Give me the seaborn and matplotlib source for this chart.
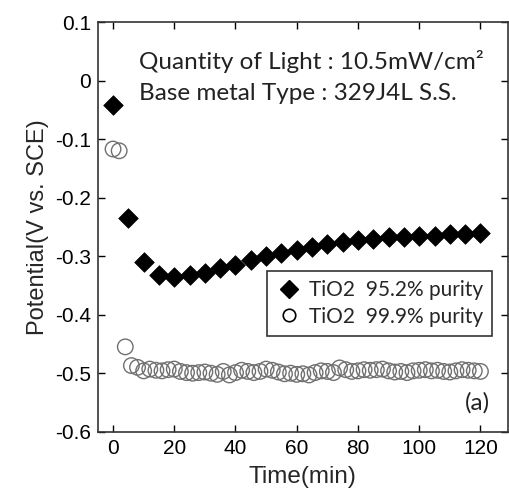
import matplotlib
matplotlib.use("Agg")
import matplotlib.pyplot as plt
import seaborn as sns
import pandas as pd
from matplotlib.lines import Line2D

sns.set_style("ticks")
plt.rcParams['font.family'] = ['Liberation Sans', 'DejaVu Sans']

# ---- data ----
time_952 = [0, 5, 10, 15, 20, 25, 30, 35, 40, 45, 50, 55, 60, 65, 70, 75,
            80, 85, 90, 95, 100, 105, 110, 115, 120]
pot_952 = [-0.041, -0.235, -0.310, -0.332, -0.335, -0.333, -0.328, -0.321,
           -0.315, -0.306, -0.300, -0.295, -0.289, -0.284, -0.280, -0.276,
           -0.273, -0.270, -0.268, -0.267, -0.266, -0.265, -0.263, -0.262,
           -0.260]

time_999 = [0, 2, 4, 6, 8, 10, 12, 14, 16, 18, 20, 22, 24, 26, 28, 30, 32,
            34, 36, 38, 40, 42, 44, 46, 48, 50, 52, 54, 56, 58, 60, 62, 64,
            66, 68, 70, 72, 74, 76, 78, 80, 82, 84, 86, 88, 90, 92, 94, 96,
            98, 100, 102, 104, 106, 108, 110, 112, 114, 116, 118, 120]
pot_999 = [-0.117, -0.120, -0.455, -0.487, -0.490, -0.496, -0.493, -0.495,
           -0.496, -0.494, -0.493, -0.497, -0.499, -0.500, -0.499, -0.498,
           -0.500, -0.502, -0.497, -0.503, -0.499, -0.495, -0.497, -0.499,
           -0.497, -0.493, -0.495, -0.498, -0.501, -0.500, -0.502, -0.501,
           -0.503, -0.499, -0.496, -0.497, -0.499, -0.491, -0.494, -0.497,
           -0.496, -0.494, -0.495, -0.494, -0.493, -0.496, -0.498, -0.497,
           -0.499, -0.496, -0.495, -0.494, -0.496, -0.495, -0.497, -0.498,
           -0.496, -0.494, -0.495, -0.496, -0.497]

labels = ["TiO2  95.2% purity", "TiO2  99.9% purity"]
xticks = [0, 20, 40, 60, 80, 100, 120]
yticks = [0.1, 0, -0.1, -0.2, -0.3, -0.4, -0.5, -0.6]
ytick_labels = ["0.1", "0", "-0.1", "-0.2", "-0.3", "-0.4", "-0.5", "-0.6"]

df1 = pd.DataFrame({"t": time_952, "v": pot_952})
df2 = pd.DataFrame({"t": time_999, "v": pot_999})

fig = plt.figure(figsize=(5.09, 4.96), dpi=100)
ax = fig.add_axes([0.192, 0.1296, 0.806, 0.826])

circ_col = "#707070"
sns.scatterplot(data=df2, x="t", y="v", ax=ax, marker="o", s=125,
                facecolors="none", edgecolor=circ_col, linewidth=1.0, zorder=2)
sns.scatterplot(data=df1, x="t", y="v", ax=ax, marker="D", s=100,
                color="black", edgecolor="black", linewidth=0.5, zorder=3)

ax.set_xlim(-5, 129)
ax.set_ylim(-0.6, 0.1)
ax.set_xticks(xticks)
ax.set_yticks(yticks)
ax.set_yticklabels(ytick_labels)
ax.tick_params(direction="in", length=5, width=1, top=True, right=True,
               labelsize=15, pad=5, colors="black")
for sp in ax.spines.values():
    sp.set_linewidth(1.2)
    sp.set_color("#333333")

ax.set_xlabel("Time(min)", fontsize=17.5, labelpad=6)
ax.set_ylabel("Potential(V vs. SCE)", fontsize=17, labelpad=4)

txt_font = ["Lato", "DejaVu Sans"]
ax.text(0.10, 0.903, "Quantity of Light : 10.5mW/cm\u00b2", transform=ax.transAxes,
        fontsize=17.5, family=txt_font, va="center", ha="left", color="#222222")
ax.text(0.10, 0.826, "Base metal Type : 329J4L S.S.", transform=ax.transAxes,
        fontsize=17.5, family=txt_font, va="center", ha="left", color="#222222")
ax.text(0.955, 0.07, "(a)", transform=ax.transAxes, fontsize=17.5,
        family=txt_font, va="center", ha="right", color="#222222")

handles = [
    Line2D([], [], linestyle="none", marker="D", markersize=9,
           markerfacecolor="black", markeredgecolor="black"),
    Line2D([], [], linestyle="none", marker="o", markersize=9,
           markerfacecolor="none", markeredgecolor="black", markeredgewidth=1.2),
]
leg = ax.legend(handles, labels, loc="upper left", bbox_to_anchor=(0.413, 0.392),
                borderaxespad=0, frameon=True, fancybox=False,
                prop={"family": txt_font, "size": 15},
                handletextpad=0.35, handlelength=1.2, labelspacing=0.3,
                borderpad=0.45)
leg.get_frame().set_edgecolor("black")
leg.get_frame().set_linewidth(1.2)

fig.savefig("out.png", dpi=100)
